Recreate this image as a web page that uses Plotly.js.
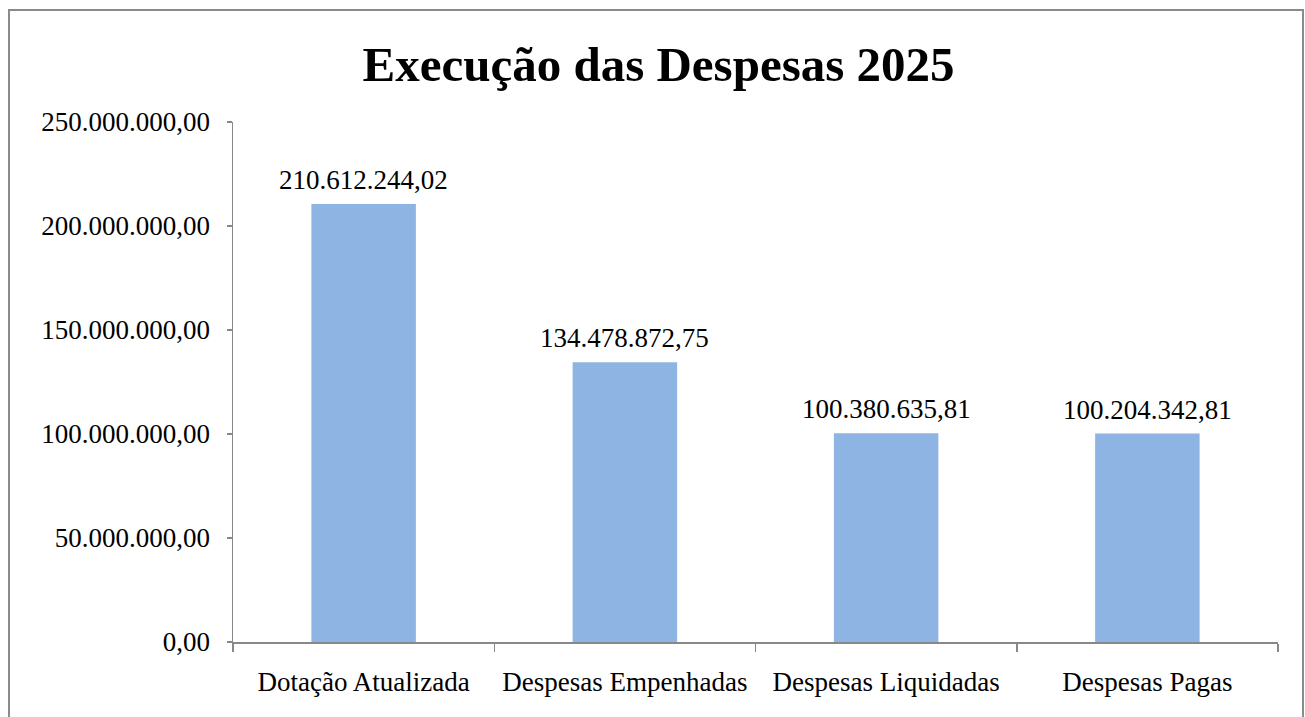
<!DOCTYPE html>
<html>
<head>
<meta charset="utf-8">
<script src="https://cdn.plot.ly/plotly-3.0.1.min.js"></script>
<style>html,body{margin:0;padding:0;background:#fff;overflow:hidden}#chart{width:1305px;height:717px}</style>
</head>
<body>
<div id="chart"></div>
<script>
const categories = ["Dotação Atualizada", "Despesas Empenhadas", "Despesas Liquidadas", "Despesas Pagas"];
const values = [210612244.02, 134478872.75, 100380635.81, 100204342.81];
const tickValues = [0, 50000000, 100000000, 150000000, 200000000, 250000000];
const chartTitle = "Execução das Despesas 2025";

function fmtBR(v) {
  const parts = v.toFixed(2).split(".");
  const intPart = parts[0].replace(/\B(?=(\d{3})+(?!\d))/g, ".");
  return intPart + "," + parts[1];
}

const FONT = "'Liberation Serif', 'Times New Roman', serif";
const AXC = "#888888";

const trace = {
  type: "bar",
  x: categories,
  y: values,
  marker: { color: "#8EB4E3", line: { width: 0 } },
  hoverinfo: "none"
};

const annotations = categories.map((c, i) => ({
  x: c, y: values[i], xref: "x", yref: "y",
  text: fmtBR(values[i]),
  showarrow: false, yanchor: "bottom", yshift: 7,
  font: { family: FONT, size: 27, color: "#000" }
}));

const L = 233, R = 27, T = 122, B = 75, W = 1305, H = 717;
const pw = W - L - R, ph = H - T - B;
const px2x = p => (p - L) / pw;
const py2y = p => (H - B - p) / ph;

const layout = {
  width: W, height: H,
  margin: { l: L, r: R, t: T, b: B, pad: 0 },
  paper_bgcolor: "#fff", plot_bgcolor: "#fff",
  separators: ",.",
  font: { family: FONT, size: 27, color: "#000" },
  title: {
    text: "<b>" + chartTitle + "</b>",
    font: { family: FONT, size: 49, color: "#000" },
    xref: "container", yref: "container",
    x: 658.5 / W, xanchor: "center",
    y: 1 - 64 / H, yanchor: "middle"
  },
  showlegend: false,
  bargap: 0.6,
  xaxis: {
    type: "category",
    showline: true, linecolor: AXC, linewidth: 1.5,
    ticks: "outside", ticklen: 8, tickcolor: AXC, tickwidth: 1.5,
    tickson: "boundaries",
    showgrid: false, zeroline: false,
    tickfont: { family: FONT, size: 27, color: "#000" },
    ticklabelstandoff: 15,
    fixedrange: true
  },
  yaxis: {
    range: [0, 250000000],
    tickvals: tickValues,
    tickformat: ",.2f",
    showline: true, linecolor: AXC, linewidth: 1.5,
    ticks: "outside", ticklen: 5, tickcolor: AXC, tickwidth: 1.5,
    showgrid: false, zeroline: false,
    tickfont: { family: FONT, size: 27, color: "#000" },
    ticklabelstandoff: 11,
    fixedrange: true
  },
  annotations: annotations,
  shapes: [{
    type: "rect", xref: "paper", yref: "paper",
    x0: px2x(9), x1: px2x(1303), y0: py2y(730), y1: py2y(10),
    line: { color: "#8a8a8a", width: 2 }, fillcolor: "rgba(0,0,0,0)", layer: "below"
  }]
};

Plotly.newPlot("chart", [trace], layout, { displayModeBar: false, staticPlot: true });
</script>
</body>
</html>
